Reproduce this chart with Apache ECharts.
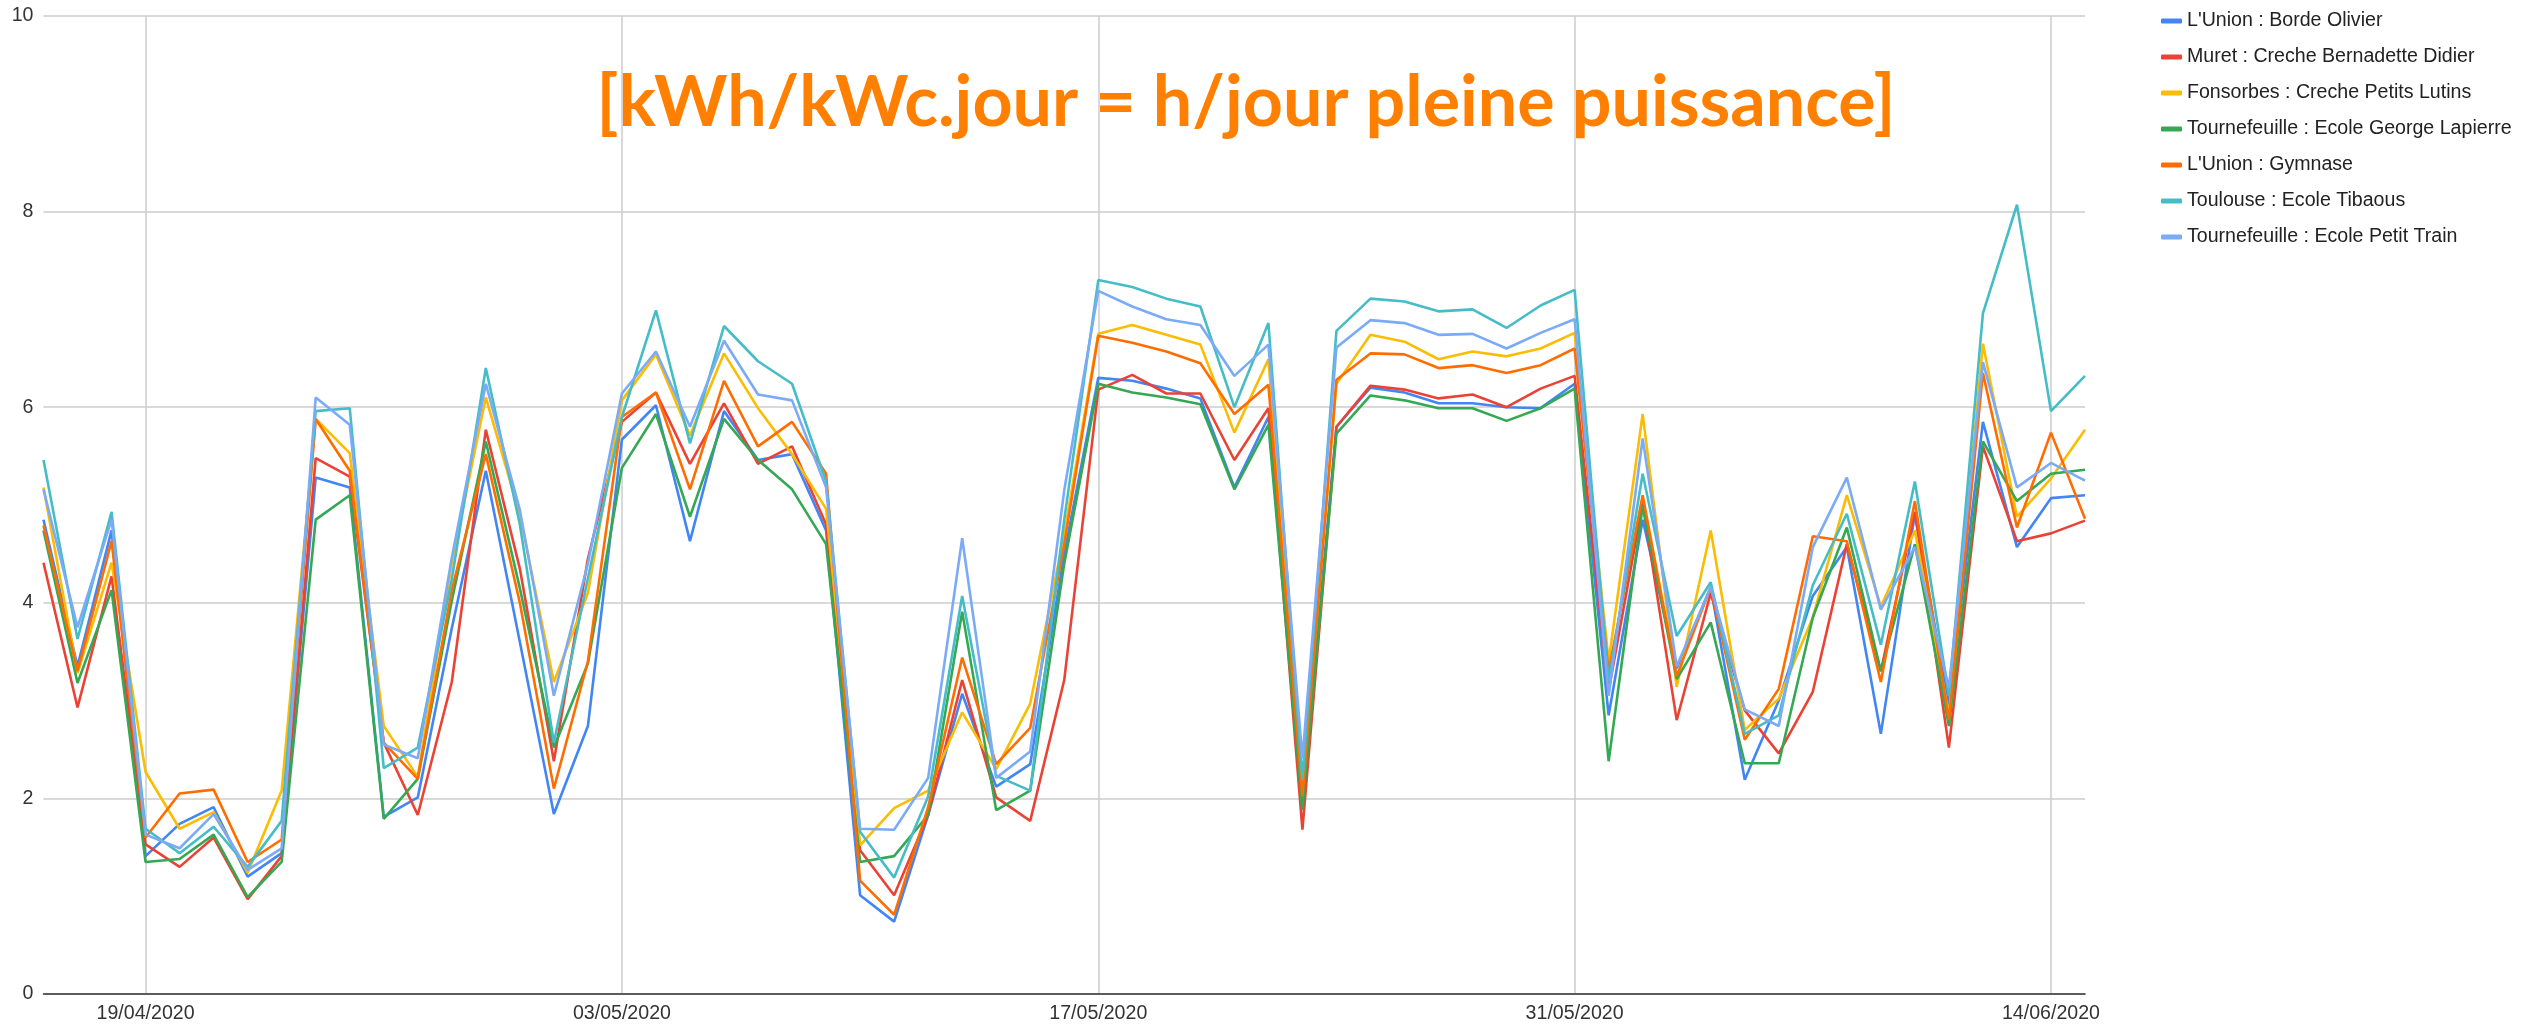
<!DOCTYPE html>
<html>
<head>
<meta charset="utf-8">
<script src="https://cdn.jsdelivr.net/npm/echarts@6/dist/echarts.min.js"></script>
<style>
html,body{margin:0;padding:0;background:#fff;}
#chart{width:2528px;height:1024px;}
</style>
</head>
<body>
<div id="chart"></div>
<script>
const dates = [
'16/04/2020','17/04/2020','18/04/2020','19/04/2020','20/04/2020','21/04/2020','22/04/2020','23/04/2020','24/04/2020','25/04/2020',
'26/04/2020','27/04/2020','28/04/2020','29/04/2020','30/04/2020','01/05/2020','02/05/2020','03/05/2020','04/05/2020','05/05/2020',
'06/05/2020','07/05/2020','08/05/2020','09/05/2020','10/05/2020','11/05/2020','12/05/2020','13/05/2020','14/05/2020','15/05/2020',
'16/05/2020','17/05/2020','18/05/2020','19/05/2020','20/05/2020','21/05/2020','22/05/2020','23/05/2020','24/05/2020','25/05/2020',
'26/05/2020','27/05/2020','28/05/2020','29/05/2020','30/05/2020','31/05/2020','01/06/2020','02/06/2020','03/06/2020','04/06/2020',
'05/06/2020','06/06/2020','07/06/2020','08/06/2020','09/06/2020','10/06/2020','11/06/2020','12/06/2020','13/06/2020','14/06/2020',
'15/06/2020'];
const labelledDates = ['19/04/2020','03/05/2020','17/05/2020','31/05/2020','14/06/2020'];

const seriesNames = [
'L\'Union : Borde Olivier',
'Muret : Creche Bernadette Didier',
'Fonsorbes : Creche Petits Lutins',
'Tournefeuille : Ecole George Lapierre',
'L\'Union : Gymnase',
'Toulouse : Ecole Tibaous',
'Tournefeuille : Ecole Petit Train'];

const bordeOlivier = [4.85,3.35,4.74,1.41,1.74,1.91,1.20,1.44,5.28,5.18,1.81,2.01,3.74,5.35,3.60,1.84,2.74,5.67,6.02,4.63,5.96,5.46,5.52,4.74,1.01,0.74,1.83,3.07,2.12,2.35,4.50,6.30,6.27,6.19,6.09,5.18,5.90,2.00,5.80,6.20,6.15,6.04,6.04,6.00,5.99,6.24,2.85,4.85,3.33,4.16,2.19,3.00,4.07,4.57,2.66,4.91,2.95,5.85,4.57,5.07,5.10];
const bernadetteDidier = [4.41,2.93,4.27,1.53,1.30,1.60,0.97,1.41,5.48,5.29,2.57,1.83,3.19,5.77,4.35,2.38,4.45,5.85,6.15,5.42,6.04,5.42,5.60,4.80,1.47,1.01,1.83,3.21,2.01,1.77,3.21,6.18,6.33,6.14,6.14,5.46,5.99,1.68,5.80,6.22,6.18,6.09,6.13,6.00,6.19,6.32,3.10,5.02,2.80,4.10,2.90,2.46,3.09,4.60,3.30,4.93,2.52,5.60,4.63,4.71,4.84];
const petitsLutins = [5.18,3.28,4.41,2.27,1.69,1.86,1.24,2.08,5.88,5.53,2.74,2.22,4.41,6.10,4.90,3.19,4.10,6.07,6.54,5.71,6.55,5.99,5.52,4.96,1.52,1.90,2.08,2.88,2.30,2.97,4.70,6.75,6.84,6.74,6.64,5.74,6.49,2.10,6.24,6.74,6.67,6.49,6.57,6.52,6.60,6.76,3.40,5.93,3.14,4.74,2.70,3.02,3.85,5.10,3.96,4.74,2.85,6.65,4.88,5.27,5.77];
const georgeLapierre = [4.74,3.18,4.13,1.35,1.38,1.63,0.99,1.35,4.85,5.10,1.79,2.20,4.02,5.65,4.15,2.52,3.38,5.38,5.93,4.88,5.88,5.46,5.16,4.60,1.35,1.41,1.83,3.91,1.88,2.08,4.40,6.24,6.15,6.10,6.03,5.16,5.82,1.88,5.73,6.12,6.07,5.99,5.99,5.86,5.99,6.19,2.38,4.99,3.22,3.80,2.36,2.36,3.85,4.77,3.30,4.60,2.74,5.65,5.04,5.32,5.36];
const gymnase = [4.79,3.30,4.63,1.60,2.05,2.09,1.35,1.58,5.88,5.35,2.57,2.20,4.13,5.52,4.00,2.10,3.40,5.90,6.15,5.16,6.27,5.60,5.85,5.32,1.16,0.81,1.91,3.44,2.35,2.72,4.60,6.73,6.66,6.57,6.45,5.93,6.23,2.02,6.28,6.55,6.54,6.40,6.43,6.35,6.43,6.60,3.30,5.10,3.25,4.16,2.60,3.12,4.68,4.63,3.19,5.04,2.80,6.35,4.77,5.74,4.86];
const tibaous = [5.46,3.63,4.93,1.69,1.44,1.71,1.30,1.77,5.96,5.99,2.31,2.52,4.24,6.40,4.80,2.57,4.25,5.90,6.99,5.63,6.83,6.47,6.24,5.24,1.66,1.19,2.02,4.07,2.23,2.08,4.85,7.30,7.23,7.11,7.03,6.00,6.86,2.19,6.78,7.11,7.08,6.98,7.00,6.81,7.04,7.20,3.20,5.32,3.66,4.21,2.66,2.85,4.18,4.91,3.57,5.24,3.05,6.96,8.07,5.96,6.32];
const petitTrain = [5.16,3.75,4.85,1.63,1.49,1.84,1.27,1.49,6.10,5.82,2.55,2.41,4.46,6.24,4.95,3.05,4.40,6.14,6.57,5.80,6.68,6.13,6.07,5.18,1.69,1.68,2.21,4.66,2.21,2.48,5.15,7.19,7.03,6.90,6.84,6.32,6.64,2.41,6.61,6.89,6.86,6.74,6.75,6.60,6.76,6.90,3.05,5.68,3.35,4.16,2.91,2.74,4.57,5.28,3.93,4.57,3.13,6.46,5.18,5.43,5.25];

const yTicks = [0, 2, 4, 6, 8, 10];
const titleText = '[kWh/kWc.jour = h/jour pleine puissance]';

const allValues = [bordeOlivier, bernadetteDidier, petitsLutins, georgeLapierre, gymnase, tibaous, petitTrain];
const colors = ['#4285F4','#EA4335','#FBBC04','#34A853','#FF6D01','#46BDC6','#7BAAF7'];

// fit title width
const ctx = document.createElement('canvas').getContext('2d');
ctx.font = 'bold 100px Lato';
const tw = ctx.measureText(titleText).width;
const titleSize = Math.round(100 * 1291 / tw);

const showIdx = (i, v) => labelledDates.indexOf(v) >= 0 || labelledDates.indexOf(dates[i]) >= 0;
const baseFont = 'Liberation Sans, Arial, sans-serif';

const chart = echarts.init(document.getElementById('chart'), null, {renderer: 'canvas'});
chart.setOption({
  animation: false,
  backgroundColor: '#fff',
  color: colors,
  grid: {left: 43.5, right: 443, top: 16, bottom: 29.5, containLabel: false},
  legend: {
    orient: 'vertical',
    left: 2156, top: 6,
    itemWidth: 21, itemHeight: 5,
    itemGap: 16,
    icon: 'roundRect',
    textStyle: {fontFamily: baseFont, fontSize: 19.6, color: '#222', lineHeight: 20, padding: [0,0,0,0]},
    data: seriesNames
  },
  graphic: [{
    type: 'text',
    style: {
      text: titleText,
      x: 1246, y: 103,
      align: 'center', verticalAlign: 'middle',
      fontFamily: 'Lato', fontWeight: 'bold', fontSize: titleSize,
      fill: '#FF8000'
    }
  }],
  xAxis: {
    type: 'category',
    data: dates,
    boundaryGap: false,
    axisTick: {show: false},
    axisLine: {show: true, lineStyle: {color: '#333', width: 1.6}},
    axisLabel: {
      interval: (i, v) => showIdx(i, v),
      fontFamily: baseFont, fontSize: 19.6, color: '#333', margin: 10
    },
    splitLine: {show: true, interval: (i, v) => showIdx(i, v), lineStyle: {color: '#cccccc', width: 1.5}}
  },
  yAxis: {
    type: 'value',
    min: yTicks[0], max: yTicks[yTicks.length - 1], interval: yTicks[1] - yTicks[0],
    axisLine: {show: false},
    axisTick: {show: false},
    axisLabel: {fontFamily: baseFont, fontSize: 19.6, color: '#333', margin: 10},
    splitLine: {show: true, lineStyle: {color: '#cccccc', width: 1.5}}
  },
  series: seriesNames.map((name, k) => ({
    name: name,
    type: 'line',
    data: allValues[k],
    symbol: 'none',
    lineStyle: {width: 2.6, color: colors[k]},
    itemStyle: {color: colors[k]}
  }))
});
</script>
</body>
</html>
